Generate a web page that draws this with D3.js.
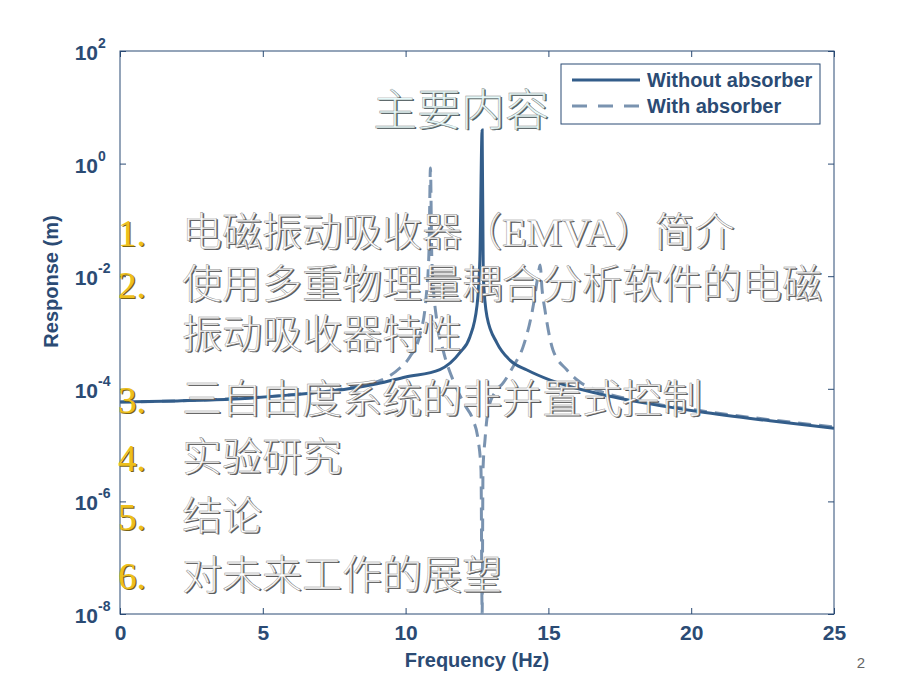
<!DOCTYPE html>
<html>
<head>
<meta charset="utf-8">
<script src="https://cdnjs.cloudflare.com/ajax/libs/d3/7.8.5/d3.min.js"></script>
<style>
  body { margin: 0; background: #fff; }
  svg text { font-family: "Liberation Sans", Arial, sans-serif; }
</style>
</head>
<body>
<div id="chart"></div>
<script>
// data (frequency in Hz, response in m)
var freqSolid = [0, 2, 4, 6, 8, 9, 10, 11.2, 11.9, 12.25, 12.5, 12.6, 12.68, 12.72, 12.85, 13.2, 13.66, 14.25, 15.06, 16.8, 18.56, 20.3, 22.76, 25];
var respSolid = [5.8e-5, 6.1e-5, 6.6e-5, 7.8e-5, 1.0e-4, 1.23e-4, 1.62e-4, 2.2e-4, 4.4e-4, 8.3e-4, 3.0e-3, 2.0e-2, 3.95, 1.0e-2, 1.9e-3, 6.5e-4, 3.2e-4, 2.16e-4, 1.43e-4, 8.1e-5, 5.4e-5, 3.9e-5, 2.7e-5, 2.0e-5];

var freqDashed = [0, 2, 4, 6.3, 8.05, 9.35, 9.8, 10.15, 10.5, 10.71, 10.82, 10.87, 10.92, 11.1, 11.31, 11.66, 12.08, 12.36, 12.54, 12.64, 12.68, 12.71, 12.78, 12.89, 13.13, 13.41, 13.76, 14.11, 14.46, 14.64, 14.71, 14.78, 14.88, 15.16, 15.65, 16.1, 16.8, 18.56, 20.3, 25];
var respDashed = [5.8e-5, 6.1e-5, 6.7e-5, 8.1e-5, 1.05e-4, 1.6e-4, 2.34e-4, 3.7e-4, 9.1e-4, 3.8e-3, 2.9e-2, 0.835, 1.9e-2, 1.5e-3, 4.9e-4, 1.43e-4, 5.1e-5, 2.8e-5, 1.24e-5, 3.6e-6, 1.0e-8, 3.6e-6, 1.24e-5, 4.2e-5, 8.7e-5, 1.26e-4, 2.45e-4, 5.5e-4, 2.8e-3, 1.05e-2, 1.58e-2, 5.7e-3, 2.5e-3, 4.9e-4, 2.16e-4, 1.32e-4, 9.1e-5, 5.6e-5, 4.1e-5, 2.1e-5];

var xTicks = [0, 5, 10, 15, 20, 25];
var yExponents = [2, 0, -2, -4, -6, -8];
var seriesNames = ["Without absorber", "With absorber"];

// slide text lying on top of the chart
var slideTitle = "主要内容";
var outlineNumbers = ["1.", "2.", "", "3.", "4.", "5.", "6."];
var outlineItems = ["电磁振动吸收器（EMVA）简介", "使用多重物理量耦合分析软件的电磁", "振动吸收器特性", "三自由度系统的非并置式控制", "实验研究", "结论", "对未来工作的展望"];
var pageNumber = "2";

var svgWidth = 920;
var svgHeight = 690;
var margin = { top: 51, right: 86, bottom: 76, left: 120 };
var width = svgWidth - margin.left - margin.right;
var height = svgHeight - margin.top - margin.bottom;

var axisColor = "#2b4b74";
var solidColor = "#335d8a";
var dashColor = "#7a93b0";

var svg = d3.select("#chart")
  .append("svg")
  .attr("width", svgWidth)
  .attr("height", svgHeight);

svg.append("rect").attr("width", svgWidth).attr("height", svgHeight).attr("fill", "#fff");

var chartGroup = svg.append("g")
  .attr("transform", `translate(${margin.left}, ${margin.top})`);

var xScale = d3.scaleLinear().domain([0, 25]).range([0, width]);
var yScale = d3.scaleLog().domain([1e-8, 1e2]).range([height, 0]);
var yTickVals = yExponents.map(e => Math.pow(10, e));

// axes, ticks pointing inward on all four sides
function styleAxis(g) {
  g.select(".domain").remove();
  g.selectAll(".tick line").attr("stroke", axisColor);
}

chartGroup.append("g")
  .attr("transform", `translate(0, ${height})`)
  .call(d3.axisBottom(xScale).tickValues(xTicks).tickSize(-6).tickPadding(11))
  .call(styleAxis)
  .call(g => g.selectAll("text")
    .attr("fill", axisColor)
    .style("font-size", "21px")
    .style("font-weight", "bold"));

chartGroup.append("g")
  .call(d3.axisTop(xScale).tickValues(xTicks).tickSize(-6).tickFormat(""))
  .call(styleAxis);

chartGroup.append("g")
  .call(d3.axisLeft(yScale).tickValues(yTickVals).tickSize(-6).tickFormat(""))
  .call(styleAxis);

chartGroup.append("g")
  .attr("transform", `translate(${width}, 0)`)
  .call(d3.axisRight(yScale).tickValues(yTickVals).tickSize(-6).tickFormat(""))
  .call(styleAxis);

// 10^n labels
var yLabels = chartGroup.append("g").selectAll("g")
  .data(yExponents)
  .enter()
  .append("g")
  .attr("transform", d => `translate(-22, ${yScale(Math.pow(10, d))})`);

yLabels.append("text")
  .attr("text-anchor", "end")
  .attr("y", 9)
  .attr("fill", axisColor)
  .style("font-size", "21px")
  .style("font-weight", "bold")
  .text("10");

yLabels.append("text")
  .attr("x", 0)
  .attr("y", -3)
  .attr("fill", axisColor)
  .style("font-size", "14px")
  .style("font-weight", "bold")
  .text(d => d);

chartGroup.append("rect")
  .attr("width", width)
  .attr("height", height)
  .attr("fill", "none")
  .attr("stroke", axisColor)
  .attr("stroke-width", 1);

// curves
chartGroup.append("clipPath").attr("id", "plot-clip")
  .append("rect").attr("width", width).attr("height", height);

var line = d3.line()
  .x(d => xScale(d[0]))
  .y(d => yScale(d[1]))
  .curve(d3.curveMonotoneX);

chartGroup.append("path")
  .datum(d3.zip(freqDashed, respDashed))
  .attr("clip-path", "url(#plot-clip)")
  .attr("d", line)
  .attr("fill", "none")
  .attr("stroke", dashColor)
  .attr("stroke-width", 3)
  .attr("stroke-dasharray", "13,8");

chartGroup.append("path")
  .datum(d3.zip(freqSolid, respSolid))
  .attr("clip-path", "url(#plot-clip)")
  .attr("d", line)
  .attr("fill", "none")
  .attr("stroke", solidColor)
  .attr("stroke-width", 3);

// axis titles
chartGroup.append("text")
  .attr("x", width / 2)
  .attr("y", height + 53)
  .attr("text-anchor", "middle")
  .attr("fill", axisColor)
  .style("font-size", "20px")
  .style("font-weight", "bold")
  .text("Frequency (Hz)");

chartGroup.append("text")
  .attr("transform", "rotate(-90)")
  .attr("x", -height / 2 + 51)
  .attr("y", -62)
  .attr("text-anchor", "middle")
  .attr("fill", axisColor)
  .style("font-size", "20px")
  .style("font-weight", "bold")
  .text("Response (m)");

// legend
var legend = svg.append("g").attr("transform", "translate(561, 64)");
legend.append("rect")
  .attr("width", 259)
  .attr("height", 60)
  .attr("fill", "#fff")
  .attr("stroke", axisColor);

var legendItems = legend.selectAll(".item")
  .data(seriesNames)
  .enter()
  .append("g")
  .attr("class", "item")
  .attr("transform", (d, i) => `translate(0, ${16 + i * 26})`);

legendItems.append("line")
  .attr("x1", 11).attr("x2", 79)
  .attr("stroke", (d, i) => i === 0 ? solidColor : dashColor)
  .attr("stroke-width", 3)
  .attr("stroke-dasharray", (d, i) => i === 0 ? null : "15,11");

legendItems.append("text")
  .attr("x", 86)
  .attr("y", 7)
  .attr("fill", axisColor)
  .style("font-size", "20px")
  .style("font-weight", "bold")
  .text(d => d);

// slide text on top
var slide = svg.append("g");
var cjk = '"Liberation Serif", "Noto Sans CJK SC", serif';

function embossed(g, x, y, size, txt, fill, shade, anchor) {
  g.append("text")
    .attr("x", x + 1.4).attr("y", y + 1.4)
    .attr("text-anchor", anchor)
    .attr("fill", shade)
    .style("font-family", cjk)
    .style("font-weight", 300)
    .style("font-size", size + "px")
    .text(txt);
  g.append("text")
    .attr("x", x).attr("y", y)
    .attr("text-anchor", anchor)
    .attr("fill", fill)
    .attr("stroke", "#8c8c8c")
    .attr("stroke-width", 0.45)
    .style("font-family", cjk)
    .style("font-weight", 300)
    .style("font-size", size + "px")
    .text(txt);
}

embossed(slide, 461, 126, 44, slideTitle, "#e6fafa", "#4f5f62", "middle");

var lineBaselines = [246, 298, 348, 413, 471, 530, 589];
outlineItems.forEach(function(item, i) {
  if (outlineNumbers[i]) {
    slide.append("text")
      .attr("x", 119.3).attr("y", lineBaselines[i] + 1.3)
      .attr("fill", "#7a6414")
      .style("font-family", '"Liberation Serif", serif')
      .style("font-size", "37px")
      .text(outlineNumbers[i]);
    slide.append("text")
      .attr("x", 118).attr("y", lineBaselines[i])
      .attr("fill", "#edbf1c")
      .style("font-family", '"Liberation Serif", serif')
      .style("font-size", "37px")
      .text(outlineNumbers[i]);
  }
  embossed(slide, 182, lineBaselines[i], 40, item, "#ffffff", "#5a5a5a", "start");
});

svg.append("text")
  .attr("x", 861)
  .attr("y", 668)
  .attr("text-anchor", "middle")
  .attr("fill", "#666")
  .style("font-size", "15px")
  .text(pageNumber);
</script>
</body>
</html>
